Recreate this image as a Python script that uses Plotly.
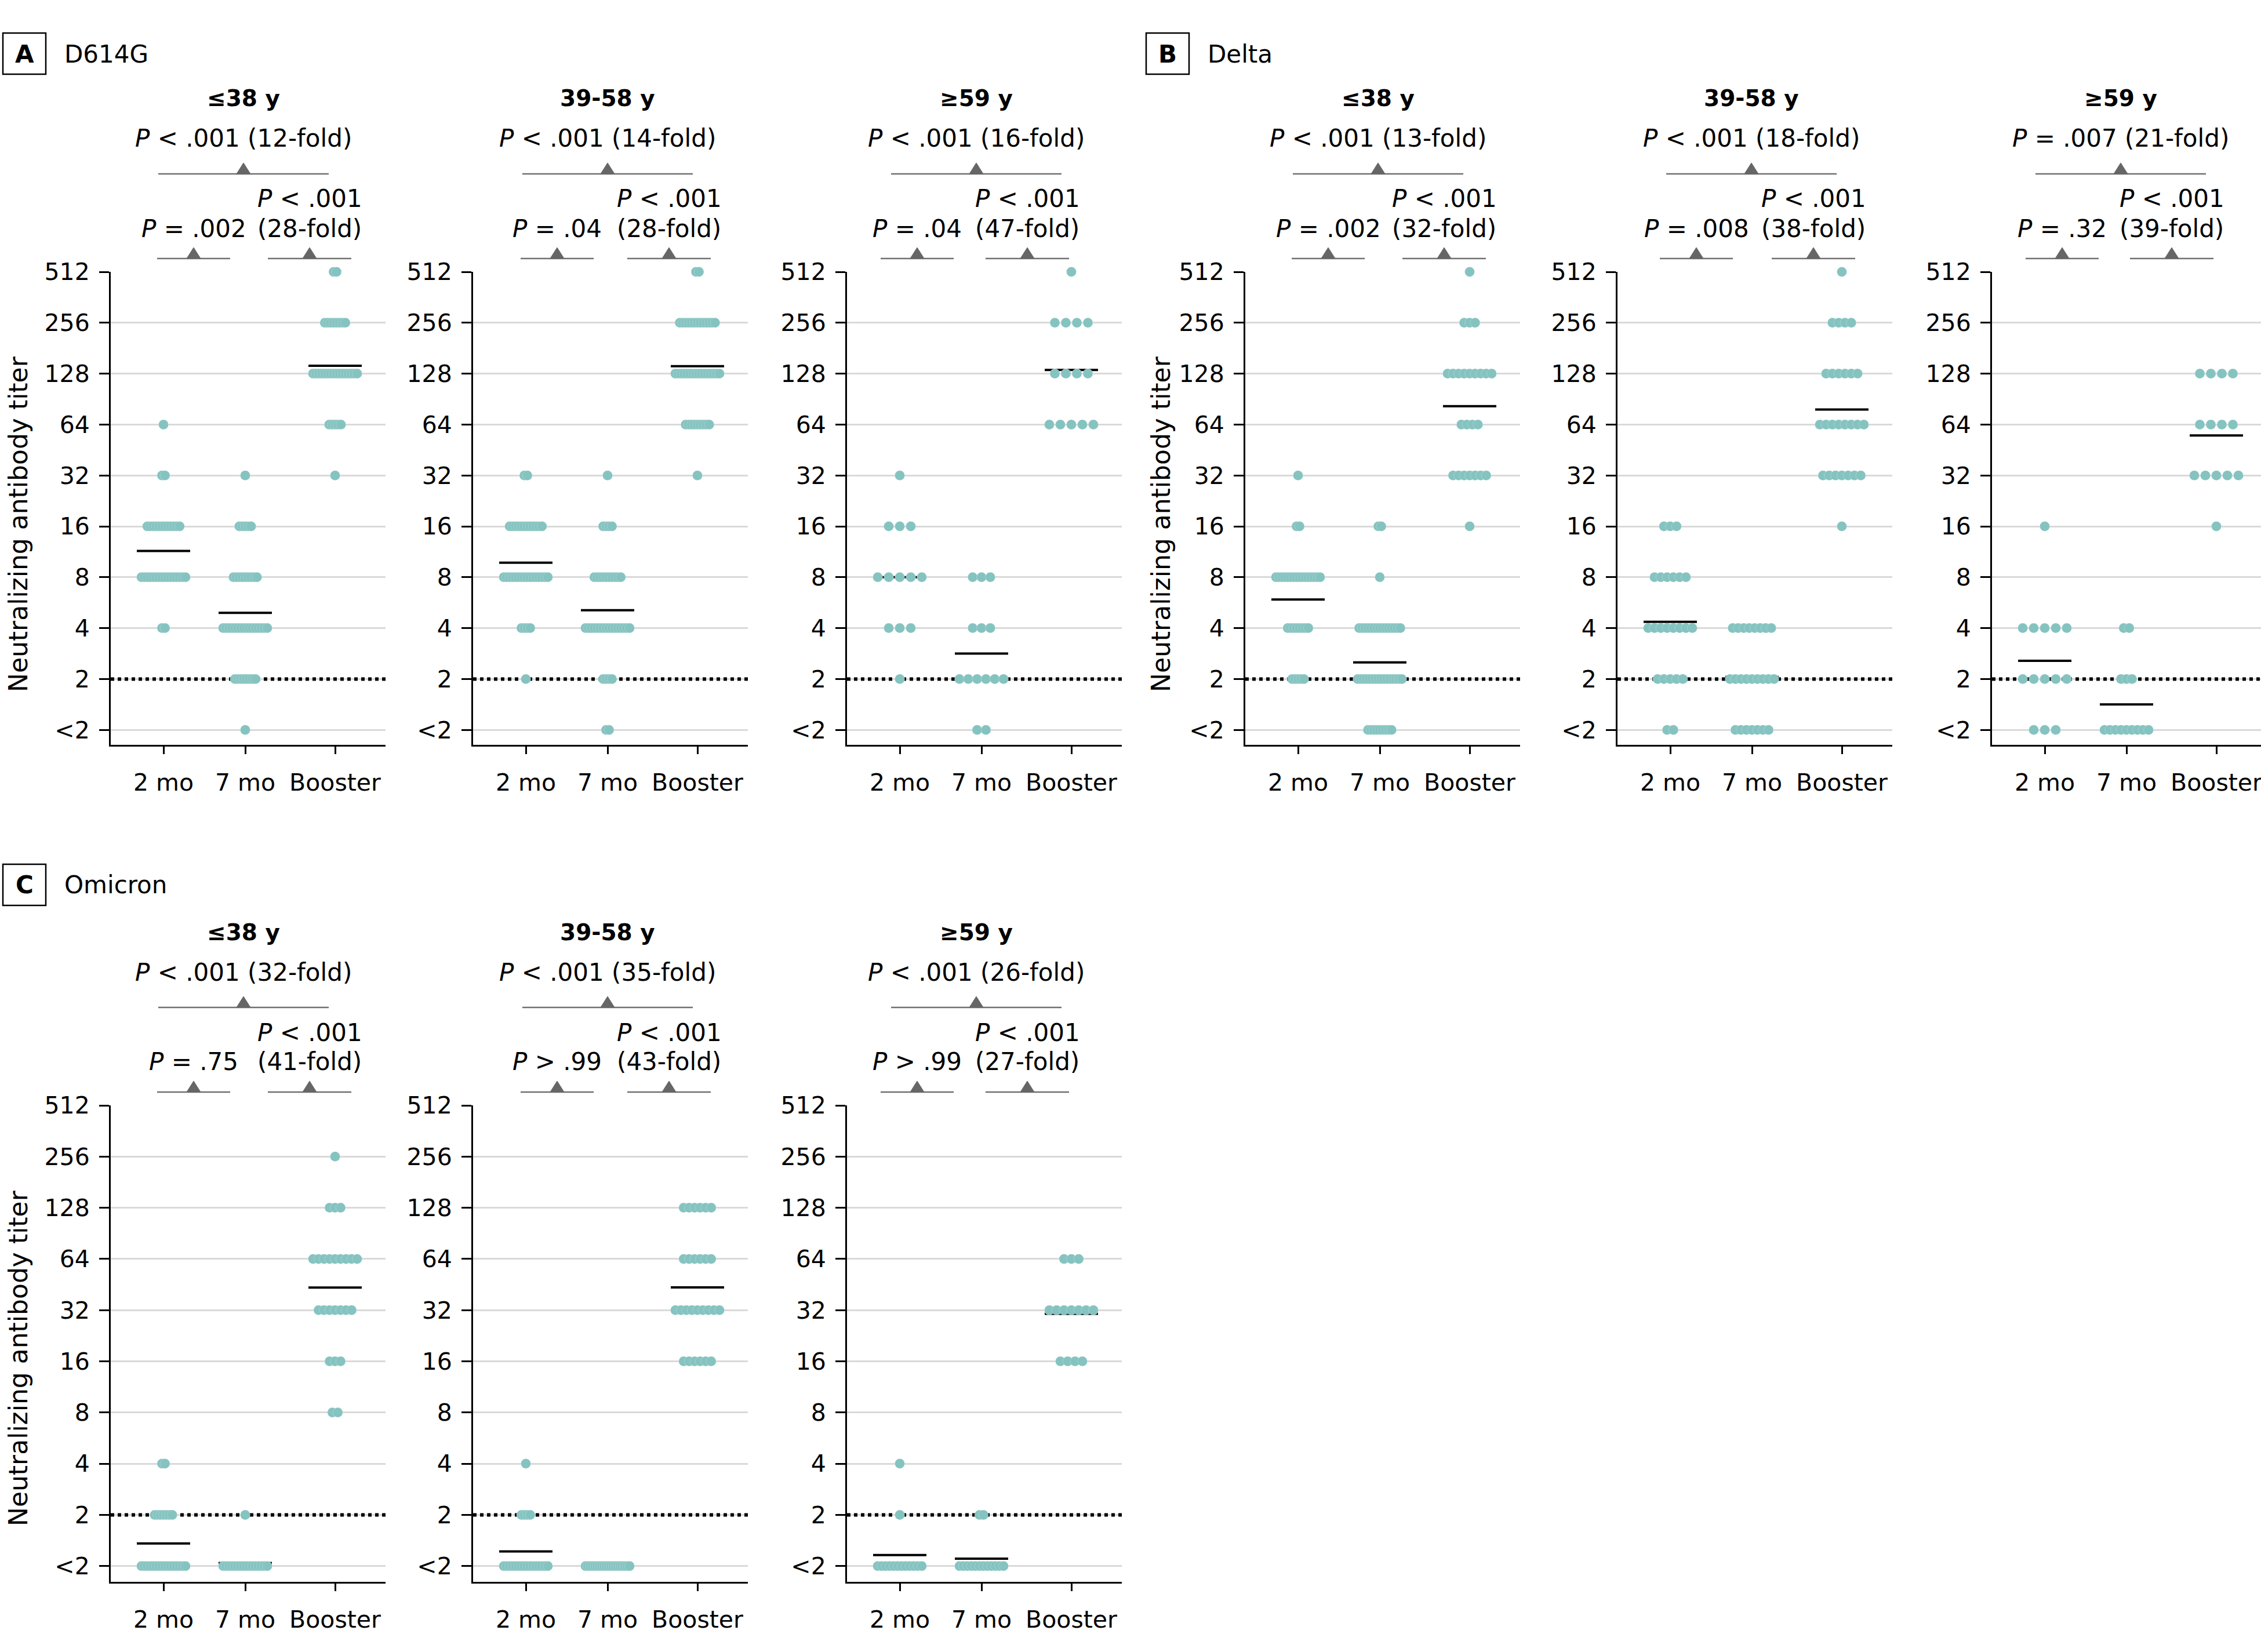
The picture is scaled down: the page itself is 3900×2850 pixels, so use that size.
import numpy as np
import plotly.graph_objects as go

# ---------------- data ----------------
LEVEL_TEXT = ["&lt;2", "2", "4", "8", "16", "32", "64", "128", "256", "512"]  # log2 index 0..9 ("<2" plotted at index 0)
TIMEPOINTS = ["2 mo", "7 mo", "Booster"]
AGE_GROUPS = ["≤38 y", "39-58 y", "≥59 y"]
VARIANTS = ["D614G", "Delta", "Omicron"]
PANEL_LETTERS = ["A", "B", "C"]

# participants per titer level (<2, 2, 4, 8, 16, 32, 64, 128, 256, 512) for 2 mo, 7 mo, booster
D614G_LE38 = [[0, 0, 2, 16, 12, 2, 1, 0, 0, 0], [1, 8, 16, 9, 5, 1, 0, 0, 0, 0], [0, 0, 0, 0, 0, 1, 5, 16, 8, 2]]
D614G_39_58 = [[0, 1, 4, 16, 12, 2, 0, 0, 0, 0], [2, 4, 16, 10, 4, 1, 0, 0, 0, 0], [0, 0, 0, 0, 0, 1, 9, 16, 13, 2]]
D614G_GE59 = [[0, 1, 3, 5, 3, 1, 0, 0, 0, 0], [2, 6, 3, 3, 0, 0, 0, 0, 0, 0], [0, 0, 0, 0, 0, 0, 5, 4, 4, 1]]
DELTA_LE38 = [[0, 5, 8, 16, 2, 1, 0, 0, 0, 0], [9, 16, 15, 1, 2, 0, 0, 0, 0, 0], [0, 0, 0, 0, 1, 7, 4, 9, 3, 1]]
DELTA_39_58 = [[2, 5, 8, 6, 3, 0, 0, 0, 0, 0], [7, 9, 8, 0, 0, 0, 0, 0, 0, 0], [0, 0, 0, 0, 1, 7, 8, 6, 4, 1]]
DELTA_GE59 = [[3, 5, 5, 0, 1, 0, 0, 0, 0, 0], [9, 3, 2, 0, 0, 0, 0, 0, 0, 0], [0, 0, 0, 0, 1, 5, 4, 4, 0, 0]]
OMICRON_LE38 = [[16, 7, 2, 0, 0, 0, 0, 0, 0, 0], [16, 1, 0, 0, 0, 0, 0, 0, 0, 0], [0, 0, 0, 2, 3, 7, 9, 3, 1, 0]]
OMICRON_39_58 = [[16, 4, 1, 0, 0, 0, 0, 0, 0, 0], [20, 0, 0, 0, 0, 0, 0, 0, 0, 0], [0, 0, 0, 0, 6, 9, 6, 6, 0, 0]]
OMICRON_GE59 = [[12, 1, 1, 0, 0, 0, 0, 0, 0, 0], [12, 2, 0, 0, 0, 0, 0, 0, 0, 0], [0, 0, 0, 0, 4, 7, 3, 0, 0, 0]]

PANELS = [D614G_LE38, D614G_39_58, D614G_GE59,
          DELTA_LE38, DELTA_39_58, DELTA_GE59,
          OMICRON_LE38, OMICRON_39_58, OMICRON_GE59]

P_2MO_BOOSTER = ["&lt; .001", "&lt; .001", "&lt; .001", "&lt; .001", "&lt; .001", "= .007", "&lt; .001", "&lt; .001", "&lt; .001"]
FOLD_2MO_BOOSTER = [12, 14, 16, 13, 18, 21, 32, 35, 26]
P_2MO_7MO = ["= .002", "= .04", "= .04", "= .002", "= .008", "= .32", "= .75", "&gt; .99", "&gt; .99"]
P_7MO_BOOSTER = ["&lt; .001"] * 9
FOLD_7MO_BOOSTER = [28, 28, 47, 32, 38, 39, 41, 43, 27]

# ---------------- layout geometry (pixels) ----------------
W, H = 3900, 2850
FONT = "DejaVu Sans"
AX_LEFT = [191, 816, 1461, 2148, 2790, 3436, 191, 816, 1461]
Y512 = [469] * 6 + [1907] * 3
YBOT = [1285] * 6 + [2729] * 3
UNIT = [87.8] * 6 + [88.3] * 3
PLOT_W = 474
CAT_X = [91, 232, 387]
TOP_TRI = [420, 1048, 1684, 2377, 3021, 3658, 420, 1048, 1684]
LL_TRI = [334, 961, 1582, 2291, 2926, 3557, 334, 961, 1582]
LR_TRI = [534, 1154, 1772, 2491, 3128, 3746, 534, 1154, 1772]
DOT = 17
ROW_CAP = 76.0
S_MAX = 19.25
GM_HALF = 46
TEAL = "#85C3C0"
BRACKET = "#707070"
TRI = "#666666"


def px(x):
    return x / W


def py(y):
    return 1 - y / H


fig = go.Figure()
layout = dict(width=W, height=H, autosize=False,
              margin=dict(l=0, r=0, t=0, b=0, pad=0, autoexpand=False),
              paper_bgcolor="white", plot_bgcolor="white", showlegend=False,
              font=dict(family=FONT, color="black"))
annotations = []
shapes = []

for k in range(9):
    counts = PANELS[k]
    ax = AX_LEFT[k]
    pw = min(PLOT_W, W - ax)
    top, bot, unit = Y512[k], YBOT[k], UNIT[k]
    sfx = "" if k == 0 else str(k + 1)
    xr, yr = "x" + sfx, "y" + sfx
    layout["xaxis" + sfx] = dict(
        domain=[px(ax), px(ax + pw)], range=[0, pw], anchor=yr, automargin=False,
        tickmode="array", tickvals=CAT_X, ticktext=TIMEPOINTS, ticklabeloverflow="allow",
        showgrid=False, zeroline=False, showline=True, linecolor="black", linewidth=3,
        ticks="outside", ticklen=13, tickwidth=2.5, tickcolor="black",
        tickfont=dict(family=FONT, size=41, color="black"), ticklabelstandoff=14, fixedrange=True)
    layout["yaxis" + sfx] = dict(
        domain=[py(bot), py(top)], range=[9 - (bot - top) / unit, 9], anchor=xr, automargin=False,
        tickmode="array", tickvals=list(range(10)), ticktext=LEVEL_TEXT,
        showgrid=True, gridcolor="#d9d9d9", gridwidth=3, zeroline=False,
        showline=True, linecolor="black", linewidth=3,
        ticks="outside", ticklen=17, tickwidth=2.5, tickcolor="black",
        tickfont=dict(family=FONT, size=41, color="black"), ticklabelstandoff=8, fixedrange=True)

    # dotted detection-limit line at titer 2
    fig.add_trace(go.Scatter(x=[0, pw], y=[1, 1], mode="lines", xaxis=xr, yaxis=yr,
                             line=dict(color="black", width=6, dash="6px,6px"), hoverinfo="skip"))

    # geometric mean lines
    gx, gy = [], []
    for c in range(3):
        cnt = np.array(counts[c])
        gm = float((cnt * np.arange(10)).sum() / cnt.sum())
        gx += [CAT_X[c] - GM_HALF, CAT_X[c] + GM_HALF, None]
        gy += [gm, gm, None]
    fig.add_trace(go.Scatter(x=gx, y=gy, mode="lines", xaxis=xr, yaxis=yr,
                             line=dict(color="black", width=4), hoverinfo="skip"))

    # dots
    dx, dy = [], []
    for c in range(3):
        cnt = counts[c]
        nmax = max(cnt)
        s = S_MAX if nmax < 2 else min(S_MAX, ROW_CAP / (nmax - 1))
        for lvl in range(10):
            n = cnt[lvl]
            for i in range(n):
                dx.append(CAT_X[c] + (i - (n - 1) / 2) * s)
                dy.append(lvl)
    fig.add_trace(go.Scatter(x=dx, y=dy, mode="markers", xaxis=xr, yaxis=yr, cliponaxis=False,
                             marker=dict(size=DOT, color=TEAL,
                                         line=dict(color="rgba(255,255,255,0.35)", width=0.7)),
                             hoverinfo="skip"))

    # headings and P-value annotations
    def ann(text, x, y, size, **kw):
        d = dict(text=text, x=px(x), y=py(y), xref="paper", yref="paper", showarrow=False,
                 xanchor="center", yanchor="middle", font=dict(family=FONT, size=size, color="black"))
        d.update(kw)
        annotations.append(d)

    ann("<b>" + AGE_GROUPS[k % 3] + "</b>", TOP_TRI[k], top - 299, 39)
    ann("<i>P</i> %s (%d-fold)" % (P_2MO_BOOSTER[k], FOLD_2MO_BOOSTER[k]), TOP_TRI[k], top - 230, 42)
    ann("<i>P</i> %s" % P_7MO_BOOSTER[k], LR_TRI[k], top - 126, 42)
    ann("(%d-fold)" % FOLD_7MO_BOOSTER[k], LR_TRI[k], top - 75, 42)
    ann("<i>P</i> %s" % P_2MO_7MO[k], LL_TRI[k], top - 75, 42)

    # brackets with triangles
    for cx, half, yb in [(TOP_TRI[k], 147, top - 169), (LL_TRI[k], 63, top - 23), (LR_TRI[k], 72, top - 23)]:
        shapes.append(dict(type="line", xref="paper", yref="paper", x0=px(cx - half), x1=px(cx + half),
                           y0=py(yb), y1=py(yb), line=dict(color=BRACKET, width=2.5)))
        path = "M %f,%f L %f,%f L %f,%f Z" % (px(cx - 12), py(yb), px(cx + 12), py(yb), px(cx), py(yb - 19))
        shapes.append(dict(type="path", xref="paper", yref="paper", path=path,
                           fillcolor=TRI, line=dict(color=TRI, width=1)))

# y-axis titles
for (x, y) in [(31, 904), (2002, 904), (31, 2343)]:
    annotations.append(dict(text="Neutralizing antibody titer", x=px(x), y=py(y), xref="paper", yref="paper",
                            showarrow=False, textangle=-90, xanchor="center", yanchor="middle",
                            font=dict(family=FONT, size=44, color="black")))

# panel letters with boxes and variant names
for letter, name, bx, by, tx in [("A", VARIANTS[0], 5, 57, 109), ("B", VARIANTS[1], 1977, 57, 2081),
                                 ("C", VARIANTS[2], 5, 1491, 109)]:
    shapes.append(dict(type="rect", xref="paper", yref="paper", x0=px(bx), x1=px(bx + 74),
                       y0=py(by + 71), y1=py(by), line=dict(color="black", width=2.5)))
    annotations.append(dict(text="<b>%s</b>" % letter, x=px(bx + 37), y=py(by + 36), xref="paper", yref="paper",
                            showarrow=False, xanchor="center", yanchor="middle",
                            font=dict(family=FONT, size=42, color="black")))
    annotations.append(dict(text=name, x=px(tx), y=py(by + 36), xref="paper", yref="paper",
                            showarrow=False, xanchor="left", yanchor="middle",
                            font=dict(family=FONT, size=42, color="black")))

layout["annotations"] = annotations
layout["shapes"] = shapes
fig.update_layout(**layout)
fig.write_html("out.html", config={"displayModeBar": False},
               post_script="document.body.style.margin='0px';")
